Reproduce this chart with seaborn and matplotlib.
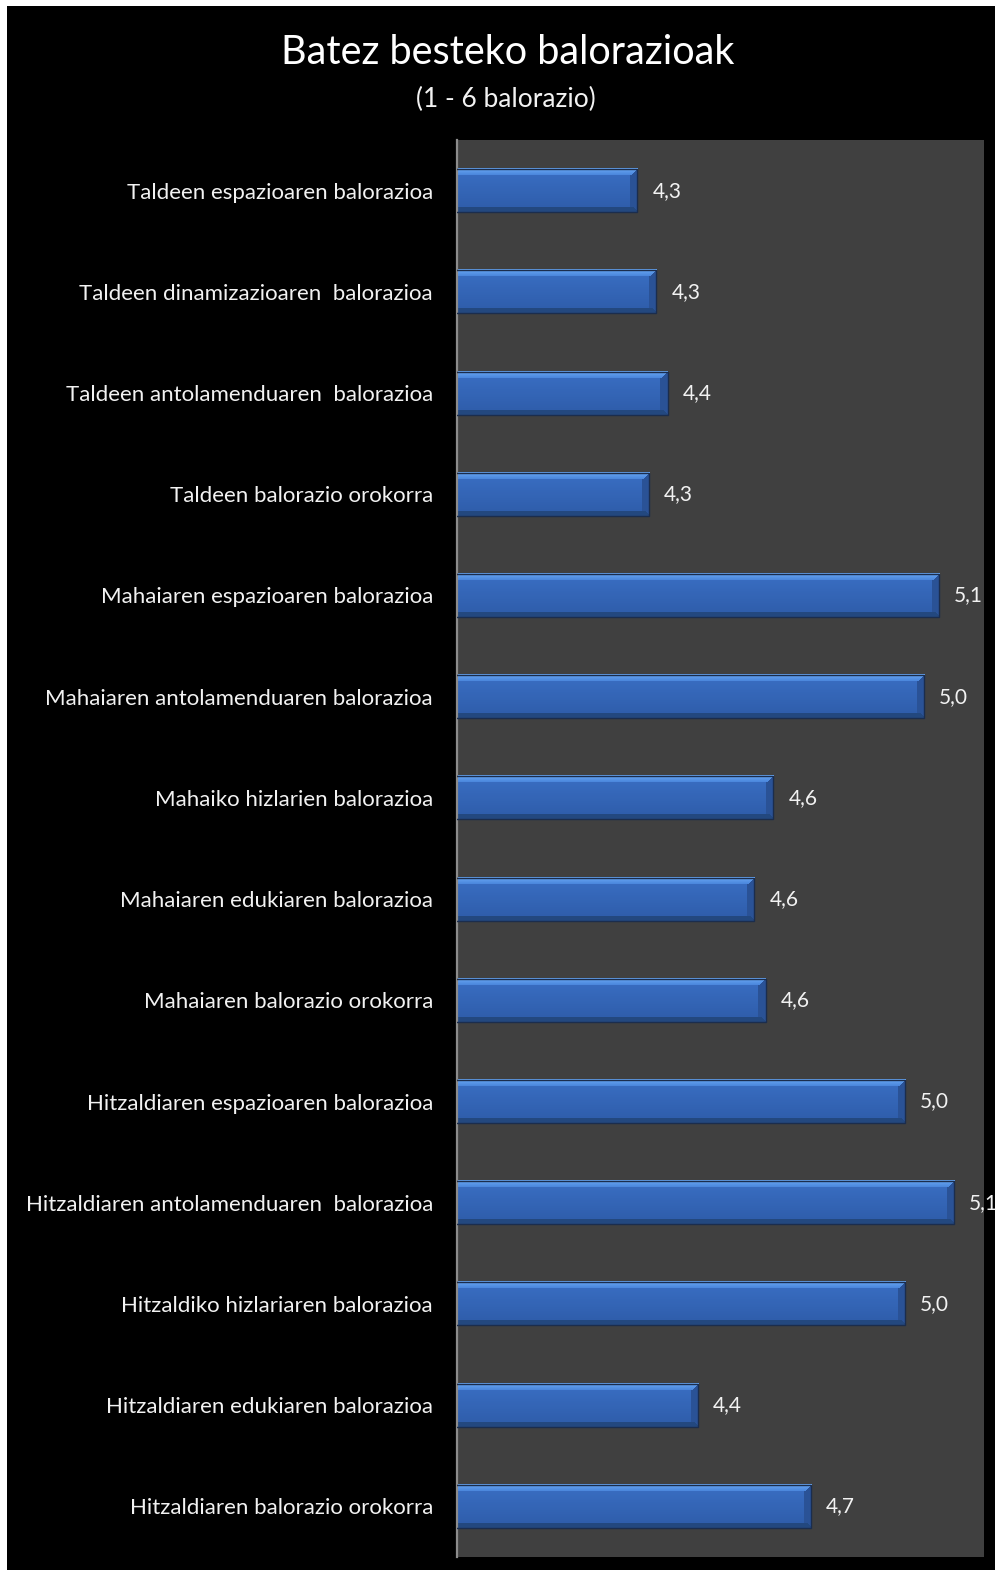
"""Batez besteko balorazioak: barra horizontalak, fondo beltza eta bevel itxura."""
import numpy as np
import pandas as pd
import matplotlib

matplotlib.use("Agg")
import matplotlib.pyplot as plt
import seaborn as sns
from matplotlib.patches import Rectangle
from matplotlib.colors import to_rgb

kategoriak = [
    "Taldeen espazioaren balorazioa",
    "Taldeen dinamizazioaren  balorazioa",
    "Taldeen antolamenduaren  balorazioa",
    "Taldeen balorazio orokorra",
    "Mahaiaren espazioaren balorazioa",
    "Mahaiaren antolamenduaren balorazioa",
    "Mahaiko hizlarien balorazioa",
    "Mahaiaren edukiaren balorazioa",
    "Mahaiaren balorazio orokorra",
    "Hitzaldiaren espazioaren balorazioa",
    "Hitzaldiaren antolamenduaren  balorazioa",
    "Hitzaldiko hizlariaren balorazioa",
    "Hitzaldiaren edukiaren balorazioa",
    "Hitzaldiaren balorazio orokorra",
]
balioak = [4.28, 4.33, 4.36, 4.31, 5.08, 5.04, 4.64, 4.59, 4.62, 4.99, 5.12, 4.99, 4.44, 4.74]

W, H = 1000, 1575
FONDOA = "#404040"
TESTUA = "#f2f2f2"

sns.set_theme(style="white")
plt.rcParams["font.family"] = ["Lato", "DejaVu Sans"]

fig = plt.figure(figsize=(W / 100, H / 100), dpi=100, facecolor="white")
fig.patches.append(Rectangle((7 / W, 1 - 1570 / H), (995 - 7) / W, (1570 - 6) / H,
                             transform=fig.transFigure, facecolor="black",
                             edgecolor="none", zorder=-5))

ax = fig.add_axes([456.7 / W, 1 - 1557 / H, (984 - 456.7) / W, (1557 - 140) / H])
ax.set_facecolor(FONDOA)

df = pd.DataFrame({"kategoria": kategoriak, "balioa": balioak})
sns.barplot(data=df, x="balioa", y="kategoria", orient="h", color="#3465b8",
            width=0.425, edgecolor="#1b2d4d", linewidth=1.0, ax=ax)
ax.set_xlim(3.8, 5.2)
ylim = ax.get_ylim()

for s in ["top", "right", "bottom"]:
    ax.spines[s].set_visible(False)
ax.spines["left"].set_color("#8c8c8c")
ax.spines["left"].set_linewidth(1.6)
ax.set_xticks([])
ax.set_xlabel("")
ax.set_ylabel("")
ax.tick_params(axis="y", length=0, pad=17, labelsize=16, labelcolor=TESTUA)


def bevel(w, h, b=7):
    yy, xx = np.mgrid[0:h, 0:w]
    dt = yy + 0.5
    db = h - yy - 0.5
    dr = w - xx - 0.5
    t = (yy / max(h - 1, 1))[..., None]
    goi, behe = np.array(to_rgb("#3a6fc4")), np.array(to_rgb("#2e5ca9"))
    img = np.broadcast_to(goi + (behe - goi) * t, (h, w, 3)).copy()
    top = (dt < b) & (dt <= db) & (dt <= dr)
    bot = (db < 5) & (db < dt) & (db <= dr)
    rgt = (dr < b + 1) & ~top & ~bot
    tt = np.broadcast_to((dt / b)[..., None], (h, w, 1))
    c1, c2 = np.array(to_rgb("#6aa9f5")), np.array(to_rgb("#4a86dc"))
    img[top] = (c1 + (c2 - c1) * tt)[top]
    img[bot] = np.array(to_rgb("#23487f"))
    img[rgt] = np.array(to_rgb("#2a5296"))
    return img


# pixel neurriak lehenik, imshow-k mugak aldatu aurretik
fig.canvas.draw()
axbb = ax.get_window_extent()
neurriak = []
for p in ax.patches:
    bb = p.get_window_extent()
    x0 = max(bb.x0, axbb.x0)
    neurriak.append((max(int(round(bb.x1 - x0)), 1), max(int(round(bb.height)), 1)))

ax.autoscale(False)
x_min = ax.get_xlim()[0]
for p, (w, h) in zip(ax.patches, neurriak):
    x_end = p.get_x() + p.get_width()
    ax.imshow(bevel(w, h), extent=(x_min, x_end, p.get_y() + p.get_height(), p.get_y()),
              origin="upper", aspect="auto", interpolation="nearest", zorder=2)
    p.set_facecolor("none")
    p.set_zorder(3)

ax.set_xlim(3.8, 5.2)
ax.set_ylim(ylim)

for p, v in zip(ax.patches, balioak):
    ax.annotate(f"{v:.1f}".replace(".", ","),
                xy=(p.get_x() + p.get_width(), p.get_y() + p.get_height() / 2),
                xytext=(11, 0), textcoords="offset points", ha="left", va="center",
                fontsize=15, color=TESTUA, annotation_clip=False)

fig.text(0.508, 1 - 53 / H, "Batez besteko balorazioak", ha="center", va="center",
         fontsize=28.5, color="white")
fig.text(0.506, 1 - 99 / H, "(1 - 6 balorazio)", ha="center", va="center",
         fontsize=19, color=TESTUA)

fig.savefig("out.png", dpi=100, facecolor=fig.get_facecolor())
